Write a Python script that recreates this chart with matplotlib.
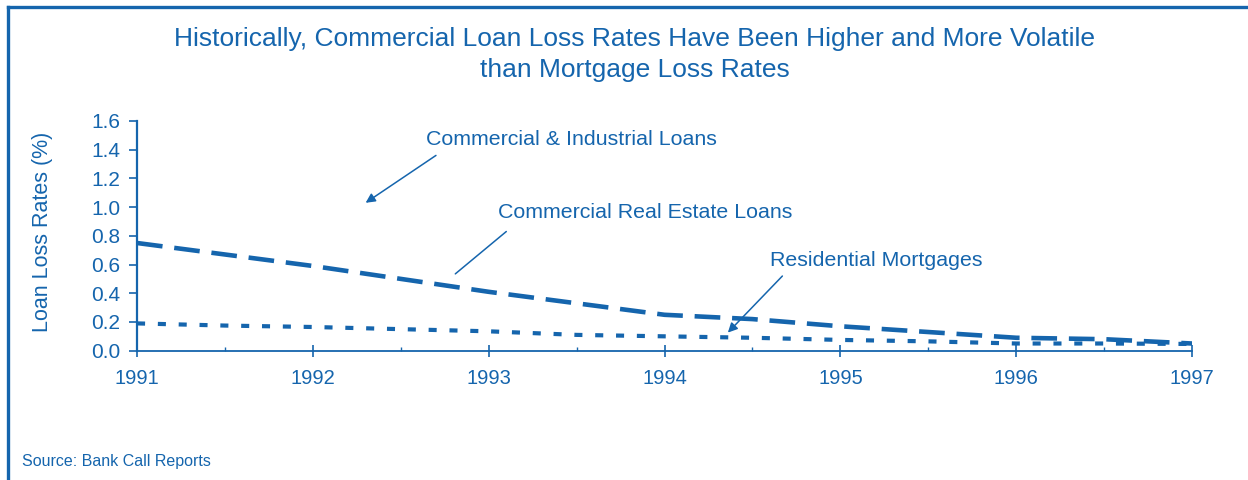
#!/usr/bin/env python3
"""Commercial vs mortgage loan loss rates, 1991-1997 (Bank Call Reports)."""
import matplotlib

matplotlib.use("Agg")
import matplotlib.pyplot as plt
from matplotlib.lines import Line2D
from matplotlib.ticker import MultipleLocator

BLUE = "#1565ad"

# semi-annual readings, loss rate in %
years = [1991, 1991.5, 1992, 1992.5, 1993, 1993.5, 1994, 1994.5,
         1995, 1995.5, 1996, 1996.5, 1997]
cre_loans = [0.75, 0.67, 0.59, 0.50, 0.41, 0.33, 0.25, 0.22,
             0.17, 0.13, 0.09, 0.08, 0.05]
res_mortgages = [0.19, 0.175, 0.165, 0.15, 0.135, 0.11, 0.10, 0.09,
                 0.075, 0.065, 0.05, 0.05, 0.047]
year_ticks = [1991, 1992, 1993, 1994, 1995, 1996, 1997]
rate_ticks = [0.0, 0.2, 0.4, 0.6, 0.8, 1.0, 1.2, 1.4, 1.6]

plt.rcParams["font.family"] = ["Liberation Sans", "DejaVu Sans"]
plt.rcParams["lines.scale_dashes"] = False

fig = plt.figure(figsize=(12.48, 4.8), dpi=100)
ax = fig.add_axes([0.1098, 0.2694, 0.8454, 0.4786])

ax.plot(years, cre_loans, color=BLUE, lw=3.3, dashes=(18.5, 8.5),
        solid_capstyle="butt", dash_capstyle="butt")
ax.plot(years, res_mortgages, color=BLUE, lw=3.0, dashes=(5.8, 9.2),
        dash_capstyle="butt")

ax.set_xlim(1991, 1997)
ax.set_ylim(0, 1.6)
ax.set_xticks(year_ticks)
ax.set_xticklabels([str(y) for y in year_ticks])
ax.xaxis.set_minor_locator(MultipleLocator(0.5))
ax.set_yticks(rate_ticks)
ax.set_yticklabels([f"{v:.1f}" for v in rate_ticks])

for s in ("top", "right"):
    ax.spines[s].set_visible(False)
ax.spines["bottom"].set_color(BLUE)
ax.spines["bottom"].set_linewidth(1.3)
ax.spines["left"].set_color(BLUE)
ax.spines["left"].set_linewidth(1.6)
ax.spines["left"].set_linestyle((0, (1.2, 1.6)))

ax.tick_params(axis="x", which="major", direction="inout", length=9,
               width=1.2, color=BLUE, labelcolor=BLUE, labelsize=14.5, pad=9)
ax.tick_params(axis="x", which="minor", direction="in", length=3,
               width=1.0, color=BLUE)
ax.tick_params(axis="y", which="major", direction="out", length=6,
               width=1.2, color=BLUE, labelcolor=BLUE, labelsize=15, pad=6)

ax.set_ylabel("Loan Loss Rates (%)", color=BLUE, fontsize=15.5)
ax.yaxis.set_label_coords(-0.080, 0.517)

# callouts
ax.text(1993.47, 1.47, "Commercial & Industrial Loans", color=BLUE,
        fontsize=15.4, ha="center", va="center")
ax.annotate("", xy=(1992.30, 1.03), xytext=(1992.70, 1.36),
            arrowprops=dict(arrowstyle="-|>", color=BLUE, lw=1.1,
                            mutation_scale=14, shrinkA=0, shrinkB=0))
ax.text(1993.05, 0.96, "Commercial Real Estate Loans", color=BLUE,
        fontsize=15.4, ha="left", va="center")
ax.annotate("", xy=(1992.81, 0.535), xytext=(1993.10, 0.83),
            arrowprops=dict(arrowstyle="-", color=BLUE, lw=1.1,
                            shrinkA=0, shrinkB=0))
ax.text(1994.6, 0.63, "Residential Mortgages", color=BLUE,
        fontsize=15.4, ha="left", va="center")
ax.annotate("", xy=(1994.36, 0.126), xytext=(1994.67, 0.52),
            arrowprops=dict(arrowstyle="-|>", color=BLUE, lw=1.1,
                            mutation_scale=14, shrinkA=0, shrinkB=0))

fig.text(0.5084, 0.918, "Historically, Commercial Loan Loss Rates Have Been Higher and More Volatile",
         color=BLUE, fontsize=19, ha="center", va="center")
fig.text(0.5084, 0.855, "than Mortgage Loss Rates",
         color=BLUE, fontsize=19, ha="center", va="center")
fig.text(0.0176, 0.038, "Source: Bank Call Reports", color=BLUE,
         fontsize=11.5, ha="left", va="center")

# frame on top and left edge
fig.add_artist(Line2D([8 / 1248, 1], [1 - 7 / 480, 1 - 7 / 480],
                      transform=fig.transFigure, color=BLUE, lw=2.4))
fig.add_artist(Line2D([8 / 1248, 8 / 1248], [0, 1 - 7 / 480],
                      transform=fig.transFigure, color=BLUE, lw=2.4))

fig.savefig("out.png", dpi=100)
